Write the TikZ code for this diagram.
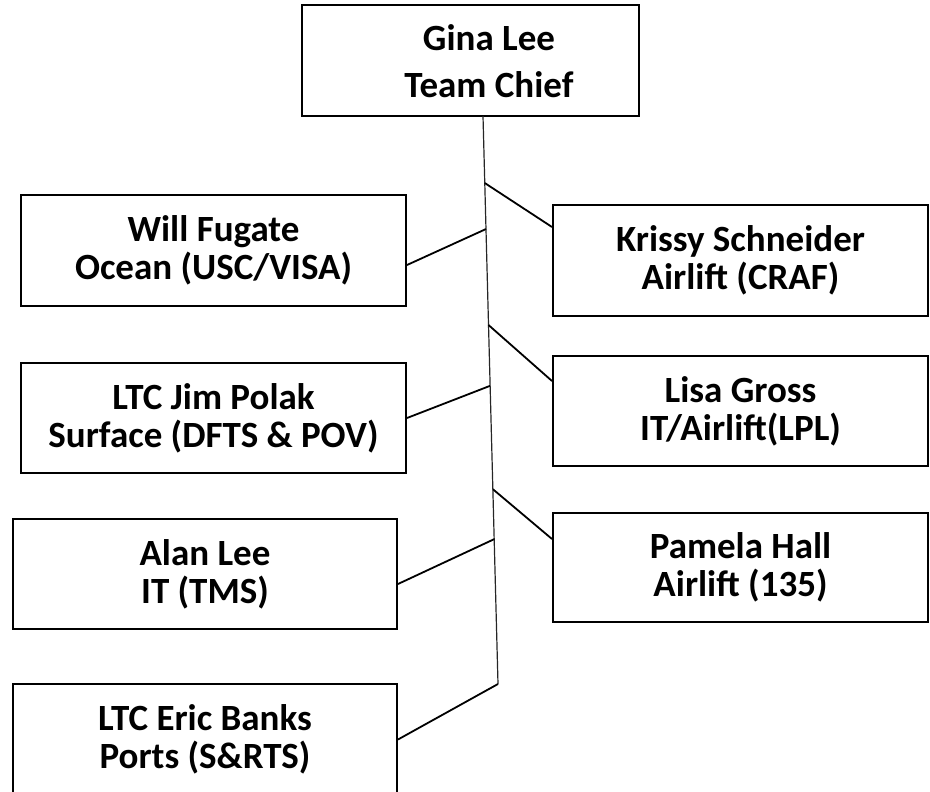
\documentclass[tikz,border=0pt]{standalone}
\usepackage{fontspec}
\setmainfont{Carlito}
\usetikzlibrary{calc}
\begin{document}
\begin{tikzpicture}[x=1pt,y=-1pt,
  box/.style={draw=black, line width=2pt, rectangle, inner sep=0pt, align=center,
    font=\fontsize{37}{38}\selectfont\bfseries, text=black},
  boxtext/.style={inner sep=0pt, align=center, font=\fontsize{37}{47}\selectfont\bfseries, text=black},
  link/.style={draw=black, line width=1.8pt},
  spine/.style={draw=black!85, line width=1.2pt}]
\useasboundingbox (0,0) rectangle (930,792);
\clip (0,0) rectangle (930,792);
% top box
\node[box, minimum width=337pt, minimum height=111pt] (chief) at (470.5,60.5) {};
\node[boxtext] (chieftext) at (489,61) {Gina Lee\\Team Chief};
% left column
\node[box, minimum width=385pt, minimum height=111pt] (will) at (213.5,250.5) {Will Fugate\\Ocean (USC/VISA)};
\node[box, minimum width=385pt, minimum height=110pt] (polak) at (213.5,418) {LTC Jim Polak\\Surface (DFTS \& POV)};
\node[box, minimum width=384pt, minimum height=110pt] (alan) at (205,574) {Alan Lee\\IT (TMS)};
\node[box, minimum width=384pt, minimum height=111pt] (banks) at (205,739.5) {LTC Eric Banks\\Ports (S\&RTS)};
% right column
\node[box, minimum width=375pt, minimum height=111pt] (krissy) at (740.5,260.5) {Krissy Schneider\\Airlift (CRAF)};
\node[box, minimum width=375pt, minimum height=110pt] (lisa) at (740.5,411) {Lisa Gross\\IT/Airlift(LPL)};
\node[box, minimum width=375pt, minimum height=109pt] (pamela) at (740.5,567.5) {Pamela Hall\\Airlift (135)};
% spine
\coordinate (sTop) at (483,116);
\coordinate (sBot) at (498,684);
\draw[spine] (sTop) -- (sBot);
\coordinate (jk) at ($(sTop)!0.118!(sBot)$);
\coordinate (jw) at ($(sTop)!0.199!(sBot)$);
\coordinate (jl) at ($(sTop)!0.368!(sBot)$);
\coordinate (jp) at ($(sTop)!0.475!(sBot)$);
\coordinate (jh) at ($(sTop)!0.657!(sBot)$);
\coordinate (ja) at ($(sTop)!0.745!(sBot)$);
% connectors
\draw[link] ([yshift=-14.5pt]will.east) -- (jw);
\draw[link] (polak.east) -- (jp);
\draw[link] ([yshift=-10pt]alan.east) -- (ja);
\draw[link] (banks.east) -- (sBot);
\draw[link] (jk) -- ([yshift=33.5pt]krissy.west);
\draw[link] (jl) -- ([yshift=30pt]lisa.west);
\draw[link] (jh) -- ([yshift=28.5pt]pamela.west);
\end{tikzpicture}
\end{document}
